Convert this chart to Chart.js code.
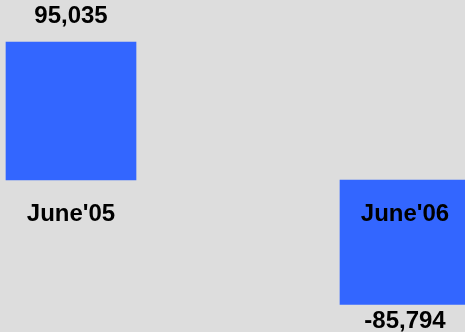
<!DOCTYPE html>
<html>
<head>
<meta charset="utf-8">
<script src="https://cdn.jsdelivr.net/npm/chart.js@4/dist/chart.umd.min.js"></script>
<style>
  html, body { margin: 0; padding: 0; background: #dddddd; overflow: hidden; }
  #wrap { width: 465px; height: 332px; position: relative; }
</style>
</head>
<body>
<div id="wrap"><canvas id="c" width="465" height="332"></canvas></div>
<script>
const categories = ["June'05", "June'06"];
const values = [95035, -85794];
const yMin = -100000;
const yMax = 120000;

const FONT = "'Liberation Sans', Arial, sans-serif";

const valueLabels = {
  id: 'valueLabels',
  afterDatasetsDraw(chart) {
    const ctx = chart.ctx;
    const meta = chart.getDatasetMeta(0);
    ctx.save();
    ctx.font = 'bold 24px ' + FONT;
    ctx.fillStyle = '#000000';
    ctx.textAlign = 'center';
    ctx.textBaseline = 'alphabetic';
    meta.data.forEach((bar, i) => {
      const v = values[i];
      const txt = v.toLocaleString('en-US');
      if (v >= 0) {
        ctx.fillText(txt, bar.x, bar.y - 19);
      } else {
        ctx.fillText(txt, bar.x, bar.y + 24);
      }
    });
    ctx.restore();
  }
};

new Chart(document.getElementById('c'), {
  type: 'bar',
  data: {
    labels: categories,
    datasets: [{
      data: values,
      backgroundColor: '#3366ff',
      borderWidth: 0,
      barThickness: 130,
      clip: false
    }]
  },
  options: {
    responsive: false,
    devicePixelRatio: 1,
    animation: false,
    layout: { padding: { left: 71, right: 60, top: 6, bottom: 7 } },
    plugins: { legend: { display: false }, tooltip: { enabled: false } },
    scales: {
      x: {
        type: 'category',
        offset: false,
        position: { y: 0 },
        grid: { display: false, drawTicks: true, tickLength: 17 },
        border: { display: false },
        ticks: {
          z: 1,
          padding: 3,
          maxRotation: 0,
          autoSkip: false,
          color: '#000000',
          font: { family: FONT, size: 24, weight: 'bold' }
        }
      },
      y: {
        display: false,
        min: yMin,
        max: yMax
      }
    }
  },
  plugins: [valueLabels]
});
</script>
</body>
</html>
